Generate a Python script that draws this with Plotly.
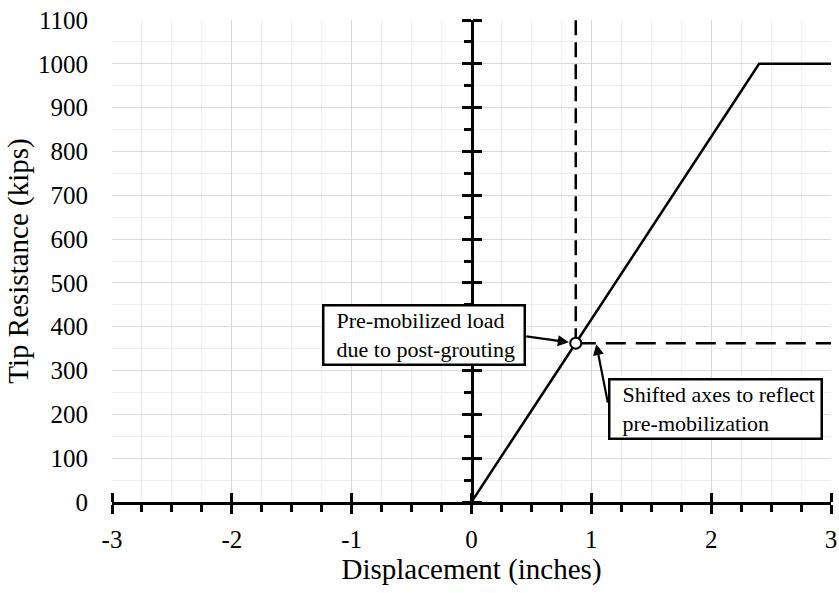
import plotly.graph_objects as go

# ---- data ----
curve_x = [0, 2.4, 3]
curve_y = [0, 1000, 1000]
point_x = [0.87]
point_y = [362.5]
vdash_x = [0.87, 0.87]
vdash_y = [362.5, 1100]
hdash_x = [0.87, 3]
hdash_y = [362.5, 362.5]
x_range = [-3, 3]
y_range = [0, 1100]
x_tickvals = [-3, -2, -1, 0, 1, 2, 3]
x_ticktext = ["-3", "-2", "-1", "0", "1", "2", "3"]
y_tickvals = [0, 100, 200, 300, 400, 500, 600, 700, 800, 900, 1000, 1100]
x_title = "Displacement (inches)"
y_title = "Tip Resistance (kips)"
note1_lines = ["Pre-mobilized load", "due to post-grouting"]
note2_lines = ["Shifted axes to reflect", "pre-mobilization"]
arrow2_head = (1.04, 362.5)

FONT = "Liberation Serif"
PAD = "\u00a0\u00a0"
fig = go.Figure()

fig.add_trace(go.Scatter(x=vdash_x, y=vdash_y, mode="lines",
                         line=dict(color="black", width=2.5, dash="15px,7px"),
                         showlegend=False, hoverinfo="skip"))
fig.add_trace(go.Scatter(x=hdash_x, y=hdash_y, mode="lines",
                         line=dict(color="black", width=2.5, dash="20px,10px"),
                         showlegend=False, hoverinfo="skip"))
fig.add_trace(go.Scatter(x=curve_x, y=curve_y, mode="lines",
                         line=dict(color="black", width=2.5),
                         showlegend=False))
fig.add_trace(go.Scatter(x=point_x, y=point_y, mode="markers",
                         marker=dict(size=11, color="white",
                                     line=dict(color="black", width=2)),
                         showlegend=False))
# invisible carriers so the shifted-axis overlays get drawn
fig.add_trace(go.Scatter(x=curve_x, y=curve_y, xaxis="x2", yaxis="y2",
                         mode="lines", line=dict(color="rgba(0,0,0,0)"),
                         showlegend=False, hoverinfo="skip"))
fig.add_trace(go.Scatter(x=curve_x, y=curve_y, xaxis="x", yaxis="y3",
                         mode="lines", line=dict(color="rgba(0,0,0,0)"),
                         showlegend=False, hoverinfo="skip"))

# annotation boxes
fig.add_annotation(x=point_x[0], y=point_y[0], xref="x", yref="y",
                   text="<br>".join(PAD + s for s in note1_lines),
                   showarrow=True, ax=-152, ay=-8,
                   arrowcolor="rgba(0,0,0,0)", arrowwidth=0.1,
                   font=dict(family=FONT, size=22, color="black"),
                   align="left", bgcolor="white", bordercolor="black",
                   borderwidth=2.5, borderpad=1, width=197, height=55)
fig.add_annotation(x=point_x[0], y=point_y[0], xref="x", yref="y",
                   text="", showarrow=True, ax=-51, ay=-7,
                   arrowhead=2, arrowsize=1, arrowwidth=2.2,
                   arrowcolor="black", standoff=7)
fig.add_annotation(x=arrow2_head[0], y=arrow2_head[1], xref="x", yref="y",
                   text="<br>".join(PAD + s for s in note2_lines),
                   showarrow=True, ax=119, ay=66,
                   arrowcolor="rgba(0,0,0,0)", arrowwidth=0.1,
                   font=dict(family=FONT, size=22, color="black"),
                   align="left", bgcolor="white", bordercolor="black",
                   borderwidth=2.5, borderpad=1, width=208, height=55)
fig.add_annotation(x=arrow2_head[0], y=arrow2_head[1], xref="x", yref="y",
                   text="", showarrow=True, ax=12, ay=61,
                   arrowhead=2, arrowsize=1, arrowwidth=2.2,
                   arrowcolor="black", standoff=1)

tickfont = dict(family=FONT, size=25, color="black")
fig.update_layout(
    width=839, height=593,
    margin=dict(l=112, r=8, t=20, b=91),
    plot_bgcolor="white", paper_bgcolor="white",
    font=dict(family=FONT, color="black"),
    xaxis=dict(range=x_range, tickmode="array", tickvals=x_tickvals,
               ticktext=x_ticktext, tickfont=tickfont, automargin=False,
               showline=True, linecolor="black", linewidth=3,
               ticks="outside", ticklen=9, tickwidth=3, tickcolor="black",
               ticklabelstandoff=4, ticklabeloverflow="allow",
               showgrid=True, gridcolor="#d9d9d9", gridwidth=1, zeroline=False,
               minor=dict(tick0=-3, dtick=0.25, ticks="outside", ticklen=7,
                          tickwidth=3, tickcolor="black", showgrid=True,
                          gridcolor="#eeeeee", gridwidth=1),
               title=dict(text=x_title, font=dict(family=FONT, size=29),
                          standoff=7)),
    xaxis2=dict(range=x_range, overlaying="x", side="top", anchor="free",
                position=0, tickmode="array", tickvals=x_tickvals,
                ticks="outside", ticklen=9, automargin=False,
                tickwidth=3, tickcolor="black", showticklabels=False,
                showgrid=False, showline=False, zeroline=False),
    yaxis=dict(range=y_range, tickmode="array", tickvals=y_tickvals,
               tickfont=tickfont, ticklabeloverflow="allow", automargin=False,
               showline=False, ticks="", ticklabelstandoff=23,
               showgrid=True, gridcolor="#d9d9d9", gridwidth=1, zeroline=False,
               minor=dict(tick0=0, dtick=50, showgrid=True,
                          gridcolor="#eeeeee", gridwidth=1),
               title=dict(text=y_title, font=dict(family=FONT, size=29),
                          standoff=0)),
    yaxis2=dict(range=y_range, overlaying="y", side="left", anchor="free",
                position=0.5, tick0=0, dtick=100, ticks="outside", ticklen=9,
                tickwidth=3, tickcolor="black", showticklabels=False,
                automargin=False,
                showgrid=False, showline=True, linecolor="black", linewidth=3,
                zeroline=False,
                minor=dict(dtick=50, ticks="outside", ticklen=7, tickwidth=3,
                           tickcolor="black", showgrid=False)),
    yaxis3=dict(range=y_range, overlaying="y", side="right", anchor="free",
                position=0.5, tick0=0, dtick=100, ticks="outside", ticklen=9,
                tickwidth=3, tickcolor="black", showticklabels=False,
                automargin=False,
                showgrid=False, showline=False, zeroline=False),
)

fig.write_html("out.html", config={"displayModeBar": False},
               post_script="document.body.style.margin='0';"
                           "document.body.style.overflow='hidden';")
